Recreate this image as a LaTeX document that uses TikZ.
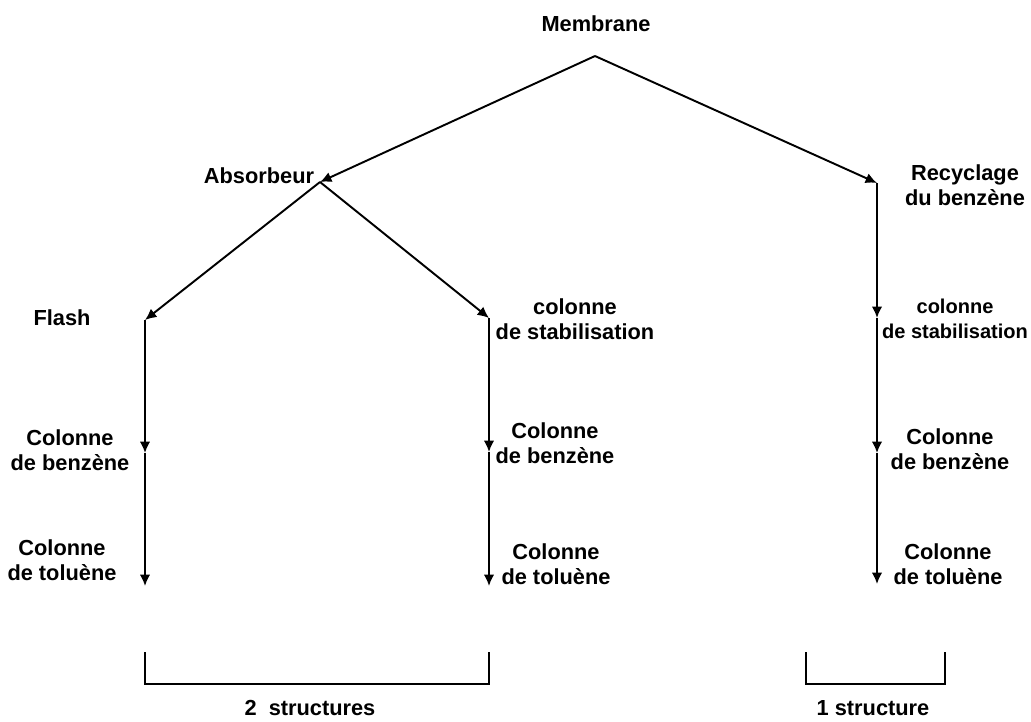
\documentclass[tikz,border=0pt]{standalone}
\usepackage{fontspec}
\setmainfont{Liberation Sans}
\usetikzlibrary{arrows.meta}
\begin{document}
\begin{tikzpicture}[x=0.02cm,y=-0.02cm,
  lbl/.style={font=\bfseries\fontsize{12.4}{14.5}\selectfont, align=center, inner sep=0pt},
  narrow/.style={font=\bfseries\fontsize{11.4}{14.5}\selectfont},
  link/.style={line width=1.1pt, -{Latex[length=6.5pt,width=6pt]}},
  brace/.style={line width=1pt}]
  \useasboundingbox (0,0) rectangle (1031,721);

  % junction points of the tree
  \coordinate (top) at (595,56);
  \coordinate (abs) at (320,182);
  \coordinate (rec) at (877,183);
  \coordinate (fl1) at (145,320);
  \coordinate (fl2) at (145,453);
  \coordinate (fl3) at (145,586);
  \coordinate (md1) at (489,318);
  \coordinate (md2) at (489,452);
  \coordinate (md3) at (489,586);
  \coordinate (rc2) at (877,318);
  \coordinate (rc3) at (877,453);
  \coordinate (rc4) at (877,584);

  % labels
  \node[lbl] (membrane) at (596,24) {Membrane};
  \node[lbl] (absorbeur) at (259,176) {Absorbeur};
  \node[lbl] (recyclage) at (965,185) {Recyclage\\du benzène};
  \node[lbl] (flash) at (62,318) {Flash};
  \node[lbl] (stab1) at (575,319) {colonne\\de stabilisation};
  \node[lbl,narrow] (stab2) at (955,319) {colonne\\de stabilisation};
  \node[lbl] (benz1) at (70,450) {Colonne\\de benzène};
  \node[lbl] (benz2) at (555,443) {Colonne\\de benzène};
  \node[lbl] (benz3) at (950,449) {Colonne\\de benzène};
  \node[lbl] (tol1) at (62,560) {Colonne\\de toluène};
  \node[lbl] (tol2) at (556,564) {Colonne\\de toluène};
  \node[lbl] (tol3) at (948,564) {Colonne\\de toluène};
  \node[lbl] (two) at (310,708) {2\ \ structures};
  \node[lbl] (one) at (873,708) {1 structure};

  % branches
  \draw[link] (top) -- (abs);
  \draw[link] (top) -- (rec);
  \draw[link] (abs) -- (fl1);
  \draw[link] (abs) -- (md1);

  % sequences of columns
  \draw[link] (fl1) -- (fl2);
  \draw[link] (fl2) -- (fl3);
  \draw[link] (md1) -- (md2);
  \draw[link] (md2) -- (md3);
  \draw[link] (rec) -- (rc2);
  \draw[link] (rc2) -- (rc3);
  \draw[link] (rc3) -- (rc4);

  % grouping brackets
  \coordinate (b1a) at (145,652);
  \coordinate (b1b) at (489,652);
  \coordinate (b2a) at (806,652);
  \coordinate (b2b) at (945,652);
  \draw[brace] (b1a) -- ++(0,32) -| (b1b);
  \draw[brace] (b2a) -- ++(0,32) -| (b2b);
\end{tikzpicture}
\end{document}
